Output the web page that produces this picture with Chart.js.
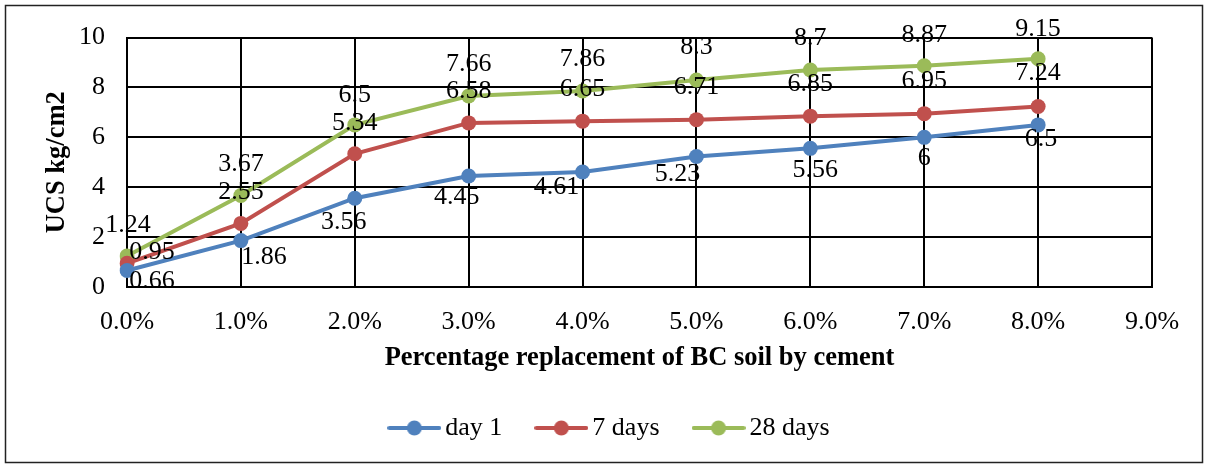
<!DOCTYPE html>
<html>
<head>
<meta charset="utf-8">
<script src="https://cdn.jsdelivr.net/npm/chart.js@4.4.1/dist/chart.umd.min.js"></script>
<style>
  html, body { margin: 0; padding: 0; background: #fff; }
  #wrap { width: 1206px; height: 466px; }
</style>
</head>
<body>
<div id="wrap"><canvas id="chart" width="1206" height="466"></canvas></div>
<script>
// data
const categories = ["0.0%", "1.0%", "2.0%", "3.0%", "4.0%", "5.0%", "6.0%", "7.0%", "8.0%", "9.0%"];
const seriesNames = ["day 1", "7 days", "28 days"];
const day1 = [0.66, 1.86, 3.56, 4.45, 4.61, 5.23, 5.56, 6, 6.5];
const days7 = [0.95, 2.55, 5.34, 6.58, 6.65, 6.71, 6.85, 6.95, 7.24];
const days28 = [1.24, 3.67, 6.5, 7.66, 7.86, 8.3, 8.7, 8.87, 9.15];
const yTicks = [0, 2, 4, 6, 8, 10];

const colors = ["#4F81BD", "#C0504D", "#9BBB59"];
const FONT = "'Liberation Serif', 'Times New Roman', serif";

// label offsets (px) per series, roughly as placed in the original
const labelOffsets = [
    { dx: [25, 23, -11, -12, -26, -19, 5, 0, 3], dy: [11, 17, 24, 21, 15, 18, 22, 21, 14] },
    { dx: [25, 0, 0, 0, 0, 0, 0, 0, 0], dy: [-11, -31, -31, -32, -32, -32, -32, -32, -33] },
    { dx: [1, 0, 0, 0, 0, 0, 0, 0, 0], dy: [-31, -31, -30, -32, -32, -33, -32, -31, -30] }
];

// legend marker: short line with a dot in the middle
function legendIcon(color) {
    const c = document.createElement("canvas");
    c.width = 54;
    c.height = 16;
    const g = c.getContext("2d");
    g.strokeStyle = color;
    g.lineWidth = 4;
    g.lineCap = "round";
    g.beginPath();
    g.moveTo(2, 8);
    g.lineTo(52, 8);
    g.stroke();
    g.fillStyle = color;
    g.beginPath();
    g.arc(27, 8, 7.5, 0, Math.PI * 2);
    g.fill();
    return c;
}
const icons = colors.map(legendIcon);

const frame = {
    id: "frame",
    beforeDraw(chart) {
        const ctx = chart.ctx;
        ctx.save();
        ctx.fillStyle = "#fff";
        ctx.fillRect(0, 0, chart.width, chart.height);
        ctx.strokeStyle = "#222";
        ctx.lineWidth = 1.5;
        ctx.strokeRect(5.5, 5.5, chart.width - 9, chart.height - 9);
        ctx.restore();
    },
    afterLayout(chart) {
        // legend sits centred on the whole frame, not on the plot
        chart.legend.left += 32;
        chart.legend.right += 32;
    }
};

const valueLabels = {
    id: "valueLabels",
    afterDatasetsDraw(chart) {
        const ctx = chart.ctx;
        ctx.save();
        ctx.font = "26px " + FONT;
        ctx.fillStyle = "#000";
        ctx.textAlign = "center";
        ctx.textBaseline = "middle";
        chart.data.datasets.forEach((ds, di) => {
            const meta = chart.getDatasetMeta(di);
            const off = labelOffsets[di];
            meta.data.forEach((pt, i) => {
                ctx.fillText(String(ds.data[i]), pt.x + off.dx[i], pt.y + off.dy[i]);
            });
        });
        ctx.restore();
    }
};

const seriesData = [day1, days7, days28];

new Chart(document.getElementById("chart"), {
    type: "line",
    data: {
        labels: categories,
        datasets: seriesData.map((vals, i) => ({
            label: seriesNames[i],
            data: vals,
            borderColor: colors[i],
            backgroundColor: colors[i],
            borderWidth: 4,
            pointRadius: 7.5,
            pointHoverRadius: 7.5,
            pointBorderWidth: 0,
            tension: 0
        }))
    },
    options: {
        responsive: false,
        animation: false,
        layout: { padding: { left: 10, right: 54, top: 35, bottom: 15 } },
        scales: {
            x: {
                offset: false,
                afterFit(scale) {
                    scale.height = 87;
                },
                grid: { color: "#000", lineWidth: 2, drawTicks: false, offset: false },
                border: { color: "#000", width: 2 },
                ticks: {
                    color: "#000",
                    font: { family: FONT, size: 26 },
                    padding: 20,
                    maxRotation: 0,
                    autoSkip: false
                },
                title: {
                    display: true,
                    text: "Percentage replacement of BC soil by cement",
                    color: "#000",
                    font: { family: FONT, size: 26.5, weight: "bold" },
                    padding: { top: 0, bottom: 0 }
                }
            },
            y: {
                min: 0,
                max: 10,
                afterBuildTicks(scale) {
                    scale.ticks = yTicks.map(v => ({ value: v }));
                },
                afterFit(scale) {
                    scale.width = 117;
                },
                grid: { color: "#000", lineWidth: 2, drawTicks: false },
                border: { color: "#000", width: 2 },
                ticks: {
                    color: "#000",
                    font: { family: FONT, size: 26 },
                    padding: 22
                },
                title: {
                    display: true,
                    text: "UCS kg/cm2",
                    color: "#000",
                    font: { family: FONT, size: 26.5, weight: "bold" },
                    padding: { top: 31, bottom: 0 }
                }
            }
        },
        plugins: {
            legend: {
                position: "bottom",
                labels: {
                    usePointStyle: true,
                    pointStyleWidth: 36,
                    boxHeight: 16,
                    padding: 41,
                    color: "#000",
                    font: { family: FONT, size: 26 },
                    generateLabels(chart) {
                        const items = Chart.defaults.plugins.legend.labels.generateLabels(chart);
                        items.forEach((it, i) => { it.pointStyle = icons[i]; });
                        return items;
                    }
                }
            },
            tooltip: { enabled: false }
        }
    },
    plugins: [frame, valueLabels]
});
</script>
</body>
</html>
